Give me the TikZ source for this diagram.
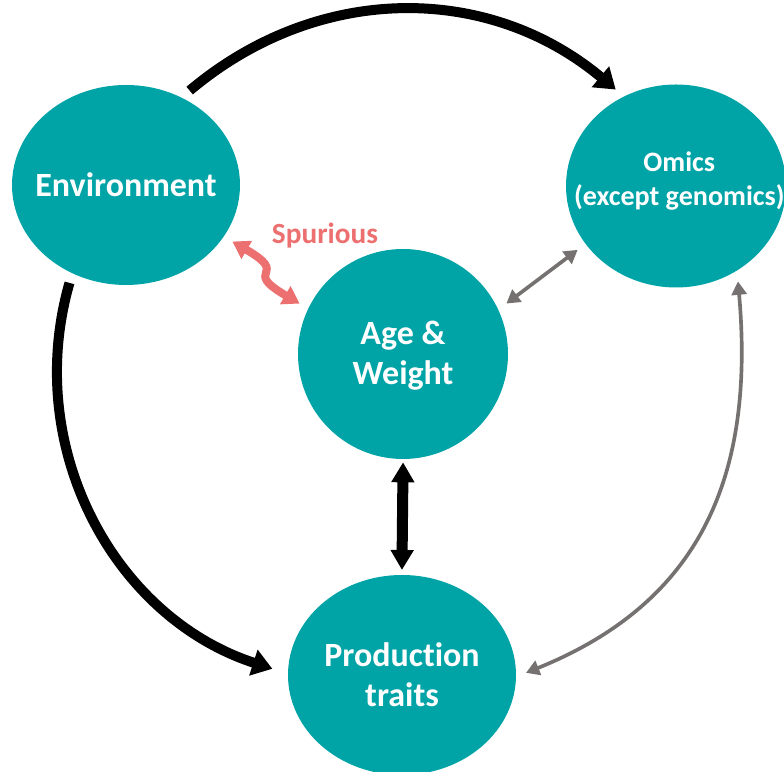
\documentclass[tikz,border=0pt]{standalone}
\usepackage{fontspec}
\setmainfont{Carlito}[Ligatures={NoCommon,NoContextual}, Contextuals=NoAlternate]
\usepackage{tikz}
\usetikzlibrary{arrows.meta,positioning,shapes.geometric}
\usepackage{xcolor}
\definecolor{bubbleteal}{RGB}{0,163,166}
\definecolor{spurred}{RGB}{237,112,112}
\definecolor{linkgray}{RGB}{118,113,113}

\tikzset{
  bubble/.style={ellipse, fill=bubbleteal, inner sep=0pt, outer sep=0.3cm},
  bubbletext/.style={text=white, font=\bfseries\fontsize{29}{34}\selectfont, align=center},
  causal/.style={line width=0.3cm, -{Triangle[length=0.6cm,width=0.78cm]}},
  mutual/.style={line width=0.11cm, linkgray, {Triangle[length=0.4cm,width=0.45cm]}-{Triangle[length=0.4cm,width=0.45cm]}},
  spur/.style={line width=0.24cm, spurred, {Triangle[length=0.5cm,width=0.6cm]}-{Triangle[length=0.5cm,width=0.6cm]}}
}

\begin{document}
\begin{tikzpicture}
\useasboundingbox (0,0) rectangle (23.52,23.16);

% Circles
\node[bubble, minimum width=6.84cm, minimum height=6cm] (env) at (3.78,17.61) {};
\node[bubble, minimum width=6.6cm, minimum height=6.09cm] (omics) at (20.28,17.58) {};
\node[bubble, minimum width=6.3cm, minimum height=6.3cm] (age) at (12.09,12.54) {};
\node[bubble, minimum width=6.84cm, minimum height=6cm] (prod) at (12.06,2.91) {};

% Labels
\node[bubbletext] (env-txt) at (env) {Environment};
\node[bubbletext, font=\bfseries\fontsize{24}{29}\selectfont] (omics-txt) at ([xshift=0.1cm,yshift=0.15cm]omics.center) {Omics\\(except genomics)};
\node[bubbletext] (age-txt) at ([yshift=-0.05cm]age.center) {Age \&\\Weight};
\node[bubbletext] (prod-txt) at (prod) {Production\\traits};
\node[text=spurred, font=\bfseries\fontsize{25}{30}\selectfont] (spur-txt) at (9.75,16.08) {Spurious};

% Causal arrows
\draw[causal] (env.56) to[bend left=40] (omics.122);
\draw[causal, shorten >=0.18cm] (env.240) to[out=-106, in=162, looseness=1] (prod.178);
\draw[line width=0.33cm, {Triangle[length=0.6cm,width=0.66cm]}-{Triangle[length=0.6cm,width=0.66cm]}, shorten <=-0.2cm, shorten >=-0.15cm] (age.south) -- (prod.north);

% Associations
\draw[mutual] (age.26) -- (omics.213);
\draw[mutual] (omics.303) to[out=-85, in=22, looseness=1.1] (prod.1);
\draw[spur] (env.332) .. controls +(1.8,-1.05) and +(-1.8,1.05) .. (age.154);

\end{tikzpicture}
\end{document}
